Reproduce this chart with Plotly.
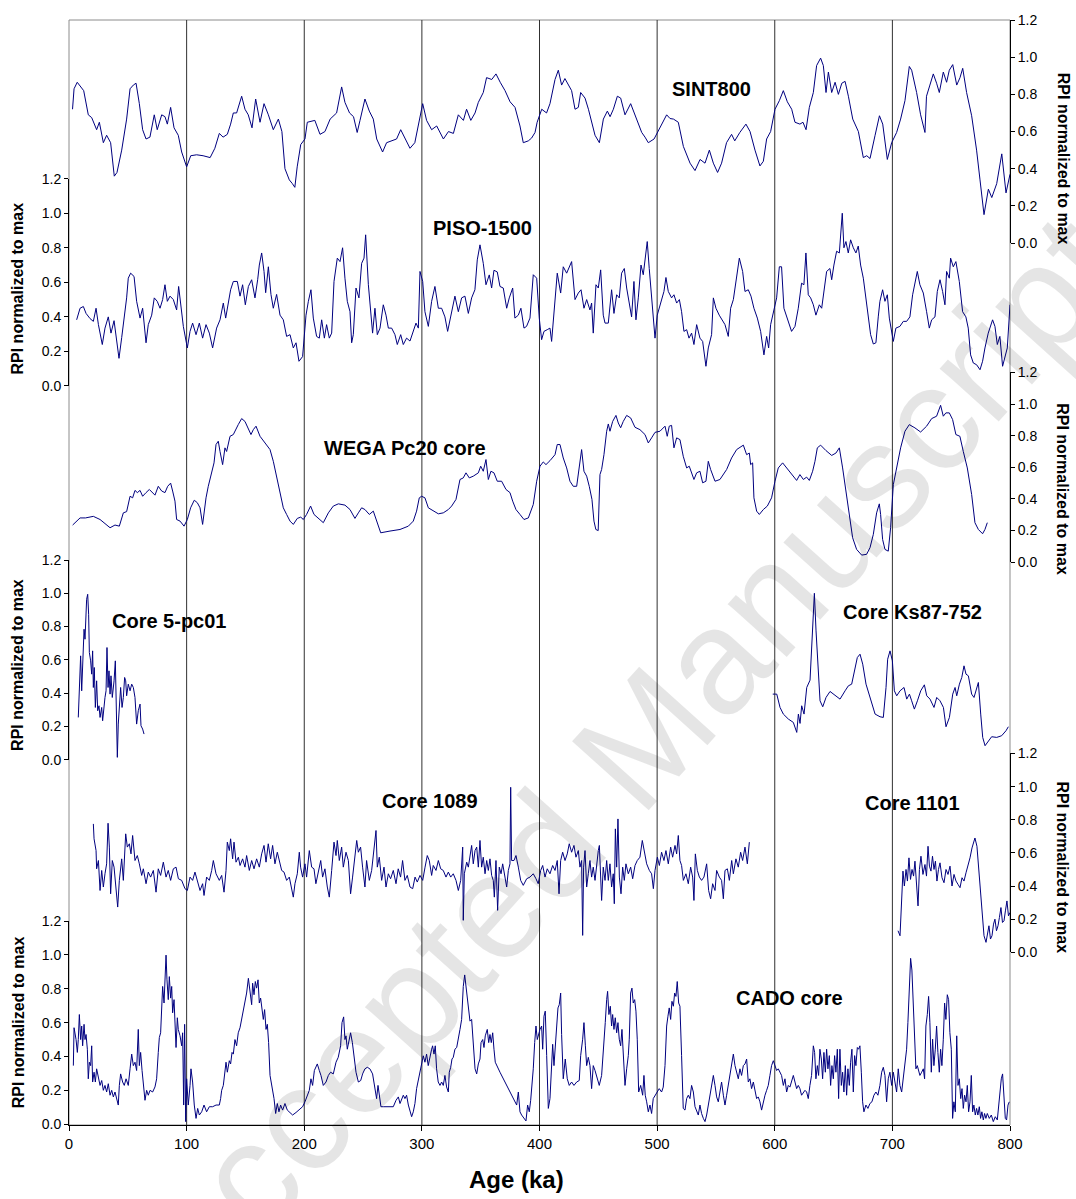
import plotly.graph_objects as go

# ---------------- data (age in ka, RPI normalized to max) ----------------
SINT800 = [(3,.72),(4.3,.83),(7,.865),(10.8,.83),(12.5,.82),(16.4,.69),(19.3,.675),(23.5,.61),(25.8,.65),(29.2,.54),(32,.58),(35.4,.54),(38.5,.36),(40.8,.38),(44.8,.50),(49,.667),(51.9,.83),(54.7,.85),(57,.86),(59.8,.75),(62.6,.61),(65.5,.56),(68.8,.57),(72.5,.69),(75,.61),(78.8,.69),(81.6,.68),(83.6,.64),(86.4,.73),(89.3,.62),(92.9,.58),(95.8,.49),(100,.41),(103.5,.47),(108.5,.475),(114,.47),(120,.46),(124,.51),(127.8,.59),(131,.57),(134.6,.585),(137.4,.64),(139.7,.70),(142.5,.70),(146.8,.79),(149.6,.72),(152.4,.69),(155.6,.62),(158.7,.775),(162.4,.65),(165.8,.75),(169.5,.69),(173.7,.61),(178,.667),(181,.60),(183.6,.40),(187.3,.34),(189.9,.32),(192,.30),(194,.41),(197,.53),(200.6,.56),(202.6,.65),(209,.66),(213.4,.585),(217.6,.60),(222,.667),(227.5,.70),(231.8,.84),(234.6,.757),(238.5,.70),(241.9,.68),(245,.595),(247.4,.66),(251.6,.775),(255.3,.71),(258.7,.667),(261.6,.56),(266.6,.49),(270,.54),(274.2,.55),(278.5,.56),(282,.61),(285.7,.56),(289.9,.51),(294,.54),(297,.64),(300.7,.75),(304,.66),(308.3,.61),(312.6,.63),(318.3,.56),(322.6,.60),(326.8,.59),(331,.69),(335.3,.66),(338,.72),(341.6,.66),(345.2,.70),(348,.757),(352.2,.81),(355,.89),(359.4,.88),(363,.91),(366.6,.865),(370.7,.82),(375,.76),(379.2,.73),(383.4,.63),(386.2,.54),(390.5,.55),(393.3,.565),(396.2,.595),(398,.65),(401.9,.72),(406,.70),(408.9,.75),(413.2,.88),(416,.93),(418.8,.85),(421.6,.885),(424.5,.85),(427.3,.82),(430.2,.72),(433,.73),(435,.81),(438.7,.78),(441.6,.72),(444.3,.65),(447.2,.58),(450.9,.54),(454.3,.667),(457.7,.71),(460,.68),(462.8,.72),(466.2,.79),(469,.78),(472.7,.69),(477.5,.75),(482.6,.66),(486.9,.595),(489.7,.57),(492.5,.54),(497.4,.56),(502.5,.62),(508.1,.69),(511,.67),(513.9,.667),(518,.65),(522.3,.52),(528,.43),(532.2,.39),(536.5,.45),(540.7,.43),(544.4,.50),(547.8,.43),(551.4,.38),(554.8,.43),(559,.54),(563.3,.585),(566,.55),(570.3,.595),(575.5,.64),(579,.60),(583.2,.50),(587.4,.415),(590.3,.44),(593.1,.56),(596.5,.60),(600.2,.72),(603.9,.766),(607.3,.82),(610.7,.76),(614.4,.72),(617.2,.65),(621.4,.64),(624,.65),(626.6,.61),(629.4,.73),(632.8,.81),(635.6,.955),(639,.995),(641.3,.955),(643.6,.81),(645.6,.92),(648.4,.81),(651.3,.865),(654.1,.80),(657,.86),(659.8,.87),(662.6,.79),(666.3,.667),(671.1,.60),(675.3,.46),(678.2,.47),(681,.455),(685.3,.58),(689,.685),(691.8,.64),(695.7,.45),(699.4,.54),(703.6,.595),(707,.667),(710.7,.766),(714.4,.95),(716.4,.93),(720.6,.81),(724,.69),(727.7,.595),(729,.79),(731.9,.85),(734.8,.91),(737.6,.86),(739.9,.81),(743.3,.92),(746.1,.865),(748.4,.93),(751.3,.96),(754.7,.85),(757.5,.89),(759.8,.94),(763.1,.81),(767.4,.685),(771.6,.50),(774.5,.34),(777.9,.153),(781.6,.29),(784.5,.245),(788.7,.32),(793,.48),(796.6,.27),(800,.37)]

PISO1500 = [(6.5,.383),(9.4,.45),(12.2,.46),(14.5,.42),(17.9,.39),(20.7,.374),(23,.45),(25,.355),(28.3,.24),(30.6,.335),(33.4,.40),(35.7,.306),(38.3,.378),(40.5,.26),(42.5,.16),(44.8,.28),(46.8,.383),(49,.51),(50.4,.624),(52.4,.653),(55.3,.634),(57.5,.49),(60.4,.393),(62.6,.45),(65.5,.25),(67.4,.355),(70.3,.41),(72.5,.51),(75,.49),(77.4,.45),(79.6,.50),(81.6,.586),(83.6,.49),(85.9,.52),(88.7,.50),(91.5,.44),(93.2,.576),(94.9,.49),(97.2,.345),(100.6,.22),(102.9,.316),(105.1,.364),(108,.297),(110.8,.364),(113.6,.277),(116.5,.355),(119.3,.306),(122.1,.22),(125.5,.335),(128.4,.383),(131.2,.48),(133.2,.393),(135.4,.49),(137.4,.557),(139.7,.605),(143.1,.605),(145.4,.52),(147.6,.586),(149.9,.47),(152.5,.576),(155.3,.615),(158.1,.51),(160.4,.615),(161.8,.70),(163.8,.77),(165.8,.663),(167.2,.54),(169.5,.69),(171.7,.53),(173.7,.45),(176.5,.53),(179.4,.41),(182.2,.383),(185,.287),(187.9,.297),(190.7,.22),(193,.25),(195.5,.143),(198.6,.17),(201.5,.41),(203.5,.49),(205.7,.557),(207.7,.393),(210.5,.287),(212.8,.277),(214.8,.383),(217.1,.277),(219,.355),(221.3,.277),(223.3,.306),(225.3,.605),(228.1,.74),(230.4,.72),(232.6,.80),(234.6,.624),(236.6,.49),(238.9,.43),(240.3,.25),(241.7,.297),(244,.567),(246.5,.51),(248.8,.71),(250.8,.74),(252.2,.875),(254.5,.586),(256.4,.43),(258.1,.306),(260.1,.45),(262.1,.297),(264.4,.335),(267.2,.47),(269.5,.41),(271.5,.335),(274.3,.335),(277.1,.297),(279.1,.24),(282,.297),(284.2,.24),(287,.277),(289.9,.26),(292.7,.316),(295,.364),(297,.335),(298.4,.663),(300.7,.605),(302.6,.43),(305.5,.345),(308.3,.49),(311.1,.576),(314,.45),(316.8,.45),(319.6,.40),(321.9,.316),(324.5,.41),(328.1,.52),(331,.43),(333.8,.51),(336.6,.52),(339.5,.42),(342.3,.51),(345.1,.557),(347.1,.73),(349.4,.817),(352.2,.71),(354.5,.586),(357.3,.643),(359.3,.567),(361.3,.67),(364.1,.66),(366.4,.576),(369.2,.567),(372.1,.45),(374.3,.51),(377.2,.567),(379.1,.393),(382,.41),(384.2,.45),(386.8,.335),(389,.345),(391.9,.393),(394.7,.644),(397.6,.624),(399.8,.393),(401.8,.268),(403.8,.316),(406.6,.326),(408.9,.335),(410.3,.258),(412.3,.43),(415.1,.653),(418,.538),(420.2,.69),(423.1,.653),(425.3,.69),(427.3,.72),(430.2,.50),(433,.538),(435.3,.557),(437.8,.45),(440.1,.50),(442.9,.44),(444.3,.48),(445.7,.306),(448,.586),(450,.567),(452,.672),(454.2,.41),(455.7,.364),(458.5,.364),(461.3,.557),(463.3,.42),(465.6,.528),(467.8,.51),(469.8,.653),(472.1,.68),(474.1,.567),(476.3,.49),(478.3,.40),(480.3,.605),(482,.383),(484,.51),(486.3,.70),(488.2,.644),(489.7,.74),(491.6,.836),(493.3,.68),(495.3,.528),(498.2,.277),(500.1,.41),(503.3,.49),(505.8,.547),(507.5,.628),(509.5,.547),(512.3,.51),(514.3,.528),(516.6,.48),(518.9,.50),(520.8,.43),(522.8,.316),(525.1,.326),(527.1,.277),(529.3,.306),(531.3,.24),(533.6,.355),(536.4,.277),(538.7,.258),(541.5,.114),(543.5,.22),(546.3,.297),(547.8,.51),(550,.45),(552.8,.41),(555.1,.383),(557.7,.355),(560.5,.287),(562.5,.45),(564.8,.50),(567.6,.644),(569.9,.74),(572.7,.663),(574.7,.547),(577.5,.557),(579.8,.52),(582.3,.45),(585.2,.393),(588,.316),(590.8,.18),(593.1,.287),(594.8,.22),(596.5,.355),(598.8,.43),(601.6,.51),(603.9,.69),(605.8,.69),(607.8,.45),(610.6,.393),(614.3,.316),(617.2,.345),(620,.45),(622.8,.595),(624.8,.586),(626.5,.77),(628.5,.528),(630.5,.51),(632.8,.47),(635,.41),(637.9,.47),(639.9,.45),(641.8,.547),(644.1,.663),(646.9,.68),(648.4,.615),(650.3,.70),(652.6,.78),(654.9,.77),(656,.884),(657.4,1.0),(658.8,.80),(660.5,.836),(662.5,.77),(664.5,.846),(666.8,.80),(669,.77),(671,.81),(673,.70),(675.3,.624),(677.5,.51),(679.5,.393),(681.5,.297),(683.8,.243),(686,.25),(688,.40),(689.4,.49),(691.7,.557),(693.7,.49),(695.7,.528),(697.4,.393),(700.8,.258),(703,.335),(706.4,.345),(709.3,.374),(712.1,.374),(714.9,.40),(717.2,.528),(719.2,.605),(721.2,.663),(723.4,.586),(726.3,.538),(729.1,.43),(731.4,.335),(733.4,.383),(736.2,.40),(738.2,.547),(740.5,.615),(742.7,.547),(744.7,.47),(746.1,.663),(748.4,.624),(749.5,.74),(751.8,.69),(754,.72),(756.9,.605),(759.7,.43),(762.5,.40),(764.5,.335),(766.5,.18),(768.8,.133),(771.6,.123),(774.5,.094),(776.7,.143),(778.7,.22),(781.5,.306),(785.2,.383),(787.2,.345),(789.2,.24),(791.4,.287),(793.7,.114),(795.7,.17),(797.7,.22),(800,.47)]

WEGA_PC20 = [(3.1,.235),(9.4,.28),(14,.28),(20.7,.29),(26.4,.27),(34.9,.218),(39.1,.235),(42.8,.228),(46.2,.312),(49,.32),(51.9,.417),(54.1,.407),(56.1,.454),(58.1,.44),(60.4,.454),(62.6,.417),(65.5,.44),(68.3,.46),(73.1,.424),(75.9,.48),(78.8,.45),(81.6,.44),(83.9,.48),(86.4,.50),(88.1,.45),(90.1,.386),(91.5,.27),(94.4,.26),(97.8,.228),(100.6,.27),(103.4,.344),(106.5,.392),(109.1,.376),(111.4,.344),(113.6,.239),(114.8,.323),(116.5,.407),(118.4,.48),(121.3,.575),(123.3,.628),(125,.744),(126.9,.765),(128.4,.70),(130.6,.617),(132.6,.723),(134,.70),(136.9,.796),(139.7,.807),(143.9,.87),(146.8,.908),(149.6,.89),(152.5,.838),(154.7,.807),(156.7,.838),(159,.86),(162.4,.796),(166.6,.754),(170.9,.712),(173.7,.638),(176.5,.533),(179.4,.44),(182.2,.344),(185,.302),(187.9,.26),(190.7,.239),(194.1,.277),(197,.285),(199.2,.27),(202,.302),(205.4,.355),(208.3,.302),(212,.28),(216.2,.25),(220.5,.312),(224.7,.355),(229,.369),(234.6,.361),(238.9,.333),(243.1,.277),(246,.312),(248.8,.344),(251.6,.333),(255.3,.302),(258.7,.323),(261.5,.26),(265,.186),(272.9,.197),(281.4,.207),(288.5,.228),(292.7,.26),(295.5,.323),(297.8,.407),(299.8,.417),(302.6,.407),(305.5,.344),(309.7,.323),(314,.306),(318.2,.312),(322.5,.333),(325.3,.355),(329,.397),(332.4,.523),(335.2,.533),(337.5,.565),(340.3,.533),(343.7,.544),(348,.565),(350,.607),(352.2,.575),(354.5,.649),(356.5,.523),(358.7,.575),(361.3,.565),(364.1,.512),(367.8,.512),(371.5,.46),(374.9,.44),(377.2,.386),(380,.333),(383.4,.302),(386.8,.27),(390.5,.28),(394.7,.365),(397.6,.512),(400.4,.607),(403.2,.634),(405.5,.617),(408.9,.642),(413.2,.68),(415.1,.744),(417.4,.744),(420.2,.659),(423.1,.596),(425.9,.512),(428.7,.48),(431.6,.48),(433.8,.596),(435.8,.712),(437.8,.575),(440.1,.544),(442.3,.48),(444.6,.397),(446.3,.26),(447.9,.207),(449.9,.20),(451.4,.554),(452.8,.586),(454.8,.68),(457.1,.828),(458.5,.874),(459.9,.828),(462.2,.89),(465,.928),(467,.88),(469,.85),(471.2,.89),(474.1,.928),(477.5,.912),(481.2,.853),(485.4,.838),(489.7,.807),(492.5,.754),(495.3,.786),(498.2,.821),(502.4,.828),(506.7,.86),(508.6,.796),(510.3,.86),(512.3,.865),(514.3,.723),(516.6,.786),(519.4,.775),(522.2,.67),(525.1,.596),(527.3,.607),(529.3,.565),(531.3,.523),(533.6,.565),(536.4,.575),(538.7,.502),(541.5,.512),(543.5,.638),(545.5,.586),(549.2,.512),(553.4,.523),(559.1,.586),(563.3,.659),(567.6,.712),(573.3,.74),(576.1,.68),(578.4,.69),(579.5,.617),(581.2,.628),(582.3,.407),(584.6,.323),(586.9,.302),(590.3,.333),(593.7,.355),(597.3,.407),(600.2,.512),(603,.596),(606.7,.628),(610.1,.596),(614.3,.554),(618.6,.517),(621.4,.554),(624.3,.523),(627.1,.538),(629.4,.517),(632.2,.575),(634.2,.638),(636.2,.723),(639,.74),(643.5,.706),(648.4,.675),(652,.69),(654.9,.723),(657.7,.596),(660.5,.449),(663.4,.28),(666.2,.155),(669.6,.081),(673.9,.045),(678.1,.05),(681,.092),(683.8,.176),(686.6,.312),(688.9,.369),(690,.302),(691.7,.144),(693.7,.081),(696.5,.07),(698.5,.218),(700.8,.49),(703.6,.596),(707,.723),(710.7,.828),(714.4,.87),(719.2,.849),(724,.823),(729.1,.86),(733.4,.908),(737.6,.923),(741,.992),(743.3,.923),(745.5,.944),(748.4,.944),(751.2,.902),(754,.807),(757.4,.796),(760.3,.70),(763.7,.596),(767.4,.428),(770.2,.25),(773.1,.207),(776.7,.18),(778.7,.207),(780.7,.25)]

CORE_5PC01 = [(7.9,.254),(8.8,.414),(9.9,.624),(10.8,.414),(11.6,.564),(12.2,.724),(12.8,.784),(13.6,.724),(14.5,.854),(15,.964),(15.9,.994),(16.7,.874),(17.3,.644),(18.4,.594),(19.3,.514),(20.1,.654),(20.7,.434),(21.5,.554),(22.4,.314),(23.5,.474),(24.4,.294),(25.5,.324),(26.4,.254),(27.8,.314),(28.6,.234),(29.8,.334),(30.6,.374),(31.5,.414),(32.3,.674),(33.2,.434),(34,.534),(34.9,.394),(35.7,.504),(36.8,.374),(38.3,.474),(39.4,.594),(40.5,.274),(41.1,.014),(41.9,.214),(42.8,.334),(43.9,.434),(45.1,.314),(46.2,.374),(47.3,.494),(48.2,.474),(49,.384),(50.4,.454),(51.9,.414),(53.3,.454),(54.7,.434),(56.1,.374),(57.5,.214),(58.9,.294),(60.4,.334),(61.2,.204),(62.6,.184),(63.8,.154)]

CORE_KS87_752 = [(598.3,.394),(601.7,.394),(604.5,.314),(607.3,.274),(611.6,.244),(615.8,.224),(618.7,.164),(620.1,.274),(621.5,.218),(622.9,.324),(624.9,.274),(627.2,.434),(630,.478),(631.4,.674),(632.8,.914),(633.7,1.0),(635.1,.774),(637.1,.474),(638.5,.354),(640.8,.318),(643.6,.374),(647,.41),(651.3,.384),(655.5,.364),(659.8,.414),(662.6,.444),(665.4,.454),(668.3,.554),(670.2,.614),(672.5,.634),(674.8,.574),(677.6,.454),(681,.374),(685.3,.274),(689.5,.258),(692.3,.254),(694.6,.434),(696,.604),(698,.654),(700,.594),(701.7,.414),(703.7,.384),(706.5,.414),(709.9,.434),(712.2,.364),(714.5,.394),(716.4,.354),(718.7,.304),(721.3,.354),(724.1,.414),(727.2,.45),(729.2,.384),(732,.364),(735.4,.314),(737.7,.374),(740.5,.354),(743.4,.314),(745.6,.198),(748.5,.254),(751.3,.394),(753.3,.434),(754.7,.384),(757,.454),(759,.494),(760.9,.564),(762.6,.514),(764.6,.504),(767.4,.394),(769.4,.374),(771.7,.434),(773.1,.464),(775.1,.274),(776.8,.134),(778.8,.084),(781.6,.114),(784.4,.138),(788.7,.134),(792.9,.144),(796.6,.174),(798.6,.198)]

CORE_1089 = [(20.7,.775),(21.3,.685),(23,.614),(23.5,.504),(25,.554),(26.4,.373),(27.8,.494),(29.2,.394),(30.6,.474),(32,.534),(33.2,.779),(34.3,.635),(35.4,.353),(36.8,.554),(38.3,.514),(39.9,.394),(41.4,.273),(42.8,.434),(44.8,.564),(46.2,.434),(48.2,.715),(49.6,.635),(51.3,.655),(52.7,.594),(54.1,.705),(56.1,.554),(58.1,.584),(59.8,.534),(61.8,.464),(63.2,.504),(65.5,.414),(67.4,.484),(69.4,.454),(71.7,.494),(74,.363),(75.9,.504),(77.9,.464),(80.2,.544),(82.5,.454),(84.4,.494),(86.4,.434),(88.7,.504),(91,.514),(93,.444),(95.8,.434),(98.6,.384),(100.6,.373),(102.9,.454),(105.1,.434),(107.1,.484),(109.1,.434),(111.4,.373),(113.6,.414),(114.8,.343),(117,.454),(119.3,.434),(121.3,.494),(122.7,.554),(125,.474),(127.8,.434),(129.8,.464),(131.8,.363),(133.5,.494),(134.6,.665),(136.3,.614),(137.4,.685),(139.1,.564),(140.3,.665),(142,.544),(144,.574),(145.4,.524),(147.6,.564),(149.6,.514),(151,.584),(153.3,.494),(155.3,.554),(157.3,.504),(159.5,.564),(161.8,.514),(163.8,.594),(165.8,.645),(167.5,.544),(169.4,.655),(171.4,.564),(173.1,.645),(175.1,.534),(177.1,.604),(178.8,.554),(180.8,.494),(182.8,.484),(185,.434),(187.3,.454),(189.3,.373),(190.7,.333),(192.1,.414),(194.1,.474),(195.8,.604),(196.9,.514),(198.6,.454),(200.6,.534),(202,.454),(204.3,.614),(206.3,.514),(208.3,.504),(209.9,.414),(211.9,.484),(214,.554),(215.6,.454),(217.6,.504),(219.6,.394),(221.3,.333),(223.3,.494),(225.3,.665),(227,.584),(228.1,.675),(229.8,.554),(231.8,.635),(233.2,.514),(235.5,.604),(237.5,.554),(239.4,.353),(241.1,.454),(243.1,.574),(244.6,.675),(246,.604),(247.9,.635),(249.6,.514),(251.6,.394),(253,.554),(255.3,.434),(257.3,.494),(259.3,.635),(261,.735),(262.1,.514),(263.8,.574),(265.8,.434),(267.8,.514),(269.5,.394),(271.5,.474),(273.4,.444),(275.7,.494),(278,.414),(279.9,.504),(281.9,.454),(283.6,.554),(285.6,.434),(287.6,.464),(289.9,.394),(292.2,.384),(294.2,.454),(296.1,.424),(298.4,.464),(300.7,.434),(302.7,.514),(304.6,.584),(306.3,.554),(308.3,.464),(309.7,.524),(312,.494),(314,.554),(316,.504),(318.2,.494),(320.5,.454),(322.5,.484),(324.5,.454),(326.7,.474),(329,.434),(331,.373),(333,.434),(334.7,.635),(335.2,.193),(336.1,.474),(338.1,.544),(339.5,.514),(340.9,.574),(342.3,.645),(343.7,.534),(345.2,.614),(346.6,.635),(348,.514),(349.4,.675),(350.8,.514),(352.2,.574),(353.7,.474),(355.1,.554),(356.5,.494),(357.9,.564),(359.3,.464),(360.7,.434),(361.6,.333),(363,.554),(364.4,.253),(365.8,.514),(367.3,.474),(368.7,.534),(370.7,.434),(372.1,.394),(373.5,.494),(374.9,.534),(375.5,.996),(376.3,.554),(378.3,.554),(380,.584),(382,.514),(384,.434),(386.2,.404),(389.1,.444),(391.9,.454),(394.7,.474),(397,.444),(398.9,.414),(401,.494),(402.7,.524),(404.7,.454),(406.6,.504),(408.9,.474),(411.2,.524),(413.2,.494),(415.1,.554),(416.6,.353),(418,.554),(419.7,.604),(421.7,.554),(423.6,.594),(425.3,.655),(427.3,.604),(429.3,.645),(431,.574),(433,.614),(434.4,.514),(435.8,.554),(436.7,.102),(437.5,.514),(438.7,.614),(440.1,.394),(441.5,.474),(442.9,.554),(444.3,.454),(445.7,.514),(447.2,.434),(448.6,.534),(450,.614),(450.9,.645),(452,.474),(452.8,.313),(454.2,.514),(455.7,.434),(457.1,.554),(458.5,.434),(459.9,.534),(461.3,.394),(462.7,.474),(463.6,.293),(464.5,.745),(465.6,.514),(466.7,.805),(467.9,.454),(469.3,.353),(470.7,.514),(472.1,.434),(473.5,.534),(475.5,.474),(477.5,.514),(479.2,.444),(481.2,.524),(483.1,.554),(485.4,.574),(487.4,.675),(489.1,.604),(491.1,.534),(493.4,.494),(495.3,.474),(496.8,.384),(498.2,.494),(500.2,.574),(501.9,.524),(503.8,.604),(505.8,.554),(507.5,.614),(509.5,.534),(511.5,.635),(513.2,.574),(515.2,.645),(516.6,.594),(518,.705),(519.4,.554),(520.8,.524),(522.3,.434),(524.5,.474),(526.5,.414),(528.5,.514),(530.2,.454),(531.3,.313),(532.5,.594),(534.2,.494),(535.9,.454),(537.8,.434),(539.8,.454),(542.1,.534),(543.8,.373),(545.5,.323),(547.2,.414),(549.2,.373),(550.6,.494),(552.9,.454),(554.8,.434),(556.3,.323),(557.7,.494),(559.7,.504),(561.4,.434),(563.4,.554),(564.8,.474),(567,.564),(569,.514),(571,.604),(572.7,.554),(574.7,.635),(576.7,.534),(578.4,.665)]

CORE_1101 = [(704.8,.13),(706.5,.10),(709,.49),(710.2,.40),(711.6,.50),(712.8,.43),(714.1,.57),(715.4,.44),(716.7,.50),(718,.46),(719.2,.55),(720.5,.42),(721.8,.28),(723,.50),(724.3,.58),(726,.47),(727.7,.53),(729,.46),(730.3,.64),(731.5,.52),(732.8,.49),(734.1,.58),(735.4,.50),(736.6,.55),(737.9,.43),(739.2,.50),(740.5,.54),(742.2,.45),(743.9,.42),(745.6,.50),(747.3,.47),(749,.52),(750.7,.40),(752.4,.47),(754.1,.43),(755.8,.41),(757.5,.39),(759.2,.45),(760.9,.43),(762.6,.48),(764.3,.52),(766,.57),(767.7,.63),(769,.66),(770.2,.69),(771.9,.64),(773.6,.49),(775.3,.31),(776.6,.22),(777.9,.10),(779.6,.06),(780.8,.12),(782.1,.16),(783.4,.08),(784.7,.10),(786,.17),(787.2,.20),(788.5,.13),(789.8,.16),(791,.21),(792.3,.27),(793.6,.18),(794.9,.19),(796.1,.25),(797.4,.31),(798.7,.22),(800,.24)]

CADO = [(3.7,.346),(4.3,.57),(6,.50),(7.1,.424),(7.9,.50),(8.8,.648),(9.9,.50),(10.8,.58),(11.6,.463),(12.8,.59),(13.6,.50),(14.5,.53),(15.6,.443),(16.4,.268),(17.3,.366),(18.4,.346),(19.3,.463),(20.1,.249),(21.3,.307),(22.4,.249),(23.5,.327),(24.9,.268),(26.4,.229),(27.8,.258),(29.2,.20),(30.6,.229),(32,.19),(33.4,.239),(34.9,.171),(36.3,.20),(37.7,.161),(39.1,.19),(40.5,.151),(41.9,.113),(42.8,.229),(43.9,.297),(45.6,.249),(47,.229),(48.5,.268),(50.4,.229),(51.9,.327),(53.3,.414),(54.7,.346),(56.1,.366),(57.5,.317),(58.9,.56),(59.8,.346),(60.9,.424),(62.1,.317),(63.2,.22),(64.6,.141),(66,.20),(67.4,.171),(68.9,.20),(71.1,.19),(73.1,.22),(74.5,.268),(75.9,.424),(76.8,.512),(77.9,.54),(78.8,.706),(79.6,.814),(80.8,.716),(81.6,.882),(82.5,.999),(83.3,.853),(84.4,.736),(85.3,.872),(86.4,.745),(87.3,.814),(88.1,.658),(89.3,.736),(90.1,.638),(91,.453),(92.1,.629),(92.9,.56),(94.4,.522),(95.8,.463),(96.6,.54),(97.5,.113),(98.3,.59),(99.2,.015),(100,.268),(101.4,.113),(102.9,.229),(103.7,.327),(105.1,.249),(106.5,.113),(108,.034),(109.4,.093),(110.8,.054),(112.8,.073),(114.8,.113),(117,.073),(119.3,.103),(122.1,.103),(125,.113),(127.8,.113),(128.9,.151),(129.8,.20),(131.2,.229),(132.6,.297),(133.5,.366),(134.6,.307),(136.3,.375),(137.4,.356),(138.6,.424),(139.7,.414),(141.1,.50),(142.5,.463),(143.9,.54),(145.4,.57),(146.8,.619),(148.2,.658),(149.6,.716),(151,.775),(152.5,.862),(153.9,.794),(155.3,.706),(156.1,.833),(157.3,.765),(158.4,.843),(159.5,.804),(160.7,.853),(161.8,.716),(162.9,.745),(164.1,.667),(165.2,.619),(166.3,.677),(167.5,.56),(168.6,.59),(169.7,.482),(170.9,.288),(172.6,.229),(174.3,.151),(175.7,.063),(177.1,.122),(178.5,.073),(179.9,.113),(181.6,.083),(183.6,.122),(185.6,.083),(187.9,.069),(190.1,.054),(193,.069),(195.8,.089),(198.6,.103),(200.6,.132),(202.6,.171),(204.3,.20),(205.7,.268),(207.1,.229),(208.6,.317),(210,.336),(211.1,.356),(212.8,.317),(214.2,.288),(216.2,.229),(218.5,.249),(220.5,.288),(222.4,.307),(224.7,.297),(227,.366),(228.9,.395),(230.9,.463),(232.1,.60),(233.5,.634),(234.6,.50),(235.5,.522),(236.6,.443),(238.3,.50),(239.4,.54),(240.9,.482),(242.3,.395),(244,.307),(246,.249),(248,.258),(249.6,.297),(251.6,.327),(253.6,.336),(255.8,.327),(258.1,.297),(260.1,.22),(261.5,.151),(262.7,.229),(263.8,.161),(265.2,.103),(267.2,.103),(271.5,.103),(275.7,.103),(278,.141),(280,.161),(281.4,.122),(282.8,.151),(284.2,.171),(285.6,.151),(287,.171),(288.5,.113),(289.9,.073),(291.3,.044),(292.7,.073),(294.1,.122),(295.5,.21),(297,.258),(298.4,.317),(299.8,.346),(301.2,.404),(302.6,.366),(304,.414),(305.4,.346),(306.8,.404),(308.3,.443),(309.1,.463),(310.3,.414),(311.4,.463),(312.5,.327),(313.9,.249),(315.4,.229),(316.8,.249),(318.2,.229),(319.6,.288),(321,.22),(322.5,.19),(323.3,.307),(324.5,.336),(325.6,.385),(326.7,.395),(328.1,.443),(329.6,.453),(331,.50),(332.4,.56),(333.8,.619),(335.2,.814),(336.4,.882),(337.5,.814),(338.6,.736),(339.8,.638),(340.9,.609),(342.3,.619),(343.7,.50),(345.2,.327),(346.6,.297),(348,.356),(349.4,.385),(350.3,.482),(351.7,.50),(352.8,.453),(353.9,.522),(355.6,.56),(356.8,.482),(357.9,.53),(359,.482),(360.2,.54),(361.3,.443),(362.4,.366),(366.4,.307),(372.1,.229),(377.7,.151),(380.6,.113),(382,.19),(383.4,.073),(384.8,.054),(386.8,.034),(388.5,.019),(389.9,.113),(391.3,.073),(392.5,.141),(393.6,.229),(394.7,.327),(395.9,.482),(397,.58),(398.1,.50),(399.3,.54),(400.4,.56),(401.8,.58),(402.7,.443),(403.8,.638),(404.9,.668),(406.1,.405),(407.5,.093),(408.9,.151),(410.3,.307),(411.2,.472),(412.3,.346),(413.4,.443),(414.6,.56),(415.7,.687),(416.8,.706),(418,.775),(418.8,.53),(420.2,.268),(421.9,.385),(423.6,.268),(425.3,.229),(427.3,.249),(429.3,.229),(431.6,.249),(433.8,.258),(435,.405),(436.7,.502),(437.8,.60),(439,.463),(440.1,.346),(441.5,.395),(442.9,.346),(444.3,.21),(445.7,.346),(447.2,.317),(448.6,.288),(450.8,.229),(452.8,.288),(454.8,.463),(455.9,.60),(457.1,.736),(457.9,.785),(459,.648),(460.2,.697),(461.3,.58),(462.2,.648),(463.3,.56),(464.4,.629),(465.6,.54),(466.7,.60),(467.8,.502),(469,.463),(470.1,.56),(471.2,.443),(472.7,.229),(474.1,.327),(475.5,.405),(476.3,.502),(477.5,.775),(478.6,.804),(479.7,.716),(480.9,.736),(482,.668),(483.1,.502),(484.3,.19),(486,.229),(487.7,.171),(488.8,.288),(489.9,.171),(491.1,.132),(492.5,.073),(493.9,.113),(495.3,.063),(496.7,.151),(498.2,.171),(500.1,.19),(501.8,.21),(503.8,.19),(505.2,.219),(506.7,.346),(508.1,.58),(509.2,.638),(510.3,.687),(511.5,.619),(512.6,.726),(513.8,.697),(514.9,.775),(516,.755),(517.1,.843),(518.3,.716),(519.4,.697),(520.8,.405),(522.2,.093),(523.7,.083),(525.1,.151),(526.5,.171),(527.9,.151),(529.3,.229),(530.8,.19),(532.2,.103),(533.6,.083),(535,.054),(536.4,.113),(537.8,.063),(539.3,.034),(540.7,.015),(542.1,.054),(543.5,.113),(544.9,.171),(546.3,.229),(547.8,.288),(549.2,.229),(550.6,.161),(552,.132),(553.4,.19),(554.8,.249),(556.3,.171),(557.7,.113),(559.1,.171),(560.5,.229),(561.9,.288),(563.3,.346),(564.8,.414),(566.2,.346),(567.6,.307),(569,.268),(570.4,.327),(571.8,.288),(573.3,.346),(574.7,.356),(576.1,.385),(577.5,.249),(578.9,.268),(580.3,.21),(581.8,.249),(583.2,.19),(584.6,.151),(586,.161),(587.4,.132),(588.8,.083),(590.3,.132),(591.7,.171),(593.1,.20),(594.5,.229),(595.9,.288),(597.3,.346),(598.8,.375),(600.2,.346),(601.6,.317),(603,.327),(604.4,.307),(605.8,.288),(607.3,.229),(608.7,.268),(610.1,.19),(611.5,.229),(612.9,.219),(614.3,.258),(615.8,.288),(617.2,.249),(618.6,.21),(620,.229),(621.4,.21),(622.8,.171),(624.3,.19),(625.7,.20),(627.1,.19),(628.5,.151),(629.9,.229),(631.3,.288),(632.8,.463),(633.9,.424),(635,.268),(636.2,.346),(637.3,.288),(638.4,.443),(639.6,.385),(640.7,.268),(641.8,.424),(643,.307),(644.1,.443),(645.2,.327),(646.4,.405),(647.5,.229),(648.6,.346),(649.8,.268),(650.9,.405),(652,.307),(653.2,.443),(654.3,.151),(655.4,.443),(656.6,.229),(657.7,.307),(658.8,.19),(660,.346),(661.1,.171),(662.2,.327),(663.4,.229),(664.5,.366),(665.6,.443),(666.8,.19),(667.9,.405),(669,.346),(670.2,.453),(671.3,.443),(672.4,.463),(673.6,.307),(674.7,.132),(675.8,.073),(677.5,.113),(679.2,.093),(680.9,.122),(682.6,.132),(684.3,.171),(686,.19),(687.7,.171),(689.4,.229),(690.9,.307),(692.3,.336),(693.7,.288),(695.1,.132),(696.5,.268),(697.9,.307),(699.4,.229),(700.8,.307),(702.2,.249),(703.6,.19),(705,.327),(706.4,.229),(707.9,.19),(709.3,.268),(710.7,.346),(712.1,.443),(713.2,.60),(714.4,.795),(715.5,.98),(716.6,.911),(717.8,.697),(718.9,.443),(720,.327),(721.2,.346),(722.3,.307),(723.4,.288),(724.9,.307),(726.3,.327),(727.4,.268),(728.5,.58),(729.7,.648),(730.8,.755),(731.9,.60),(733.1,.307),(734.2,.502),(735.3,.346),(736.5,.443),(737.6,.58),(738.7,.424),(739.9,.307),(741,.443),(742.1,.346),(743.3,.502),(744.4,.716),(745.5,.619),(746.7,.765),(747.8,.736),(748.9,.541),(750.1,.443),(751.2,.034),(752.3,.132),(753.5,.073),(754.7,.522),(755.8,.229),(756.9,.268),(758.1,.151),(759.2,.21),(760.3,.093),(761.4,.171),(762.6,.132),(763.7,.229),(764.8,.073),(766,.132),(767.1,.288),(768.2,.073),(769.3,.113),(770.5,.054),(771.6,.093),(772.7,.054),(773.9,.103),(775,.034),(776.1,.073),(777.3,.025),(778.4,.063),(779.5,.034),(780.7,.063),(782.4,.034),(784.1,.054),(785.8,.015),(787.5,.044),(789.2,.025),(790.3,.113),(791.4,.19),(792.6,.268),(793.7,.297),(794.9,.171),(796,.034),(797.1,.025),(798.3,.113),(799.4,.132)]

AGE_TICKS = [0, 100, 200, 300, 400, 500, 600, 700, 800]
RPI_TICKS = [0.0, 0.2, 0.4, 0.6, 0.8, 1.0, 1.2]
GUIDE_AGES = [100, 200, 300, 400, 500, 600, 700]

# ---------------- figure ----------------
LINE_COLOR = "#00007f"
FONT = "Liberation Sans, Arial, sans-serif"

fig = go.Figure()


def add_series(series, yaxis):
    age, rpi = zip(*series)
    fig.add_trace(go.Scatter(x=list(age), y=list(rpi), mode="lines", xaxis="x", yaxis=yaxis,
                             line=dict(color=LINE_COLOR, width=1), showlegend=False,
                             hoverinfo="skip"))


add_series(SINT800, "y")
add_series(PISO1500, "y2")
add_series(WEGA_PC20, "y3")
add_series(CORE_5PC01, "y4")
add_series(CORE_KS87_752, "y4")
add_series(CORE_1089, "y5")
add_series(CORE_1101, "y5")
add_series(CADO, "y6")


def yax(side, domain, rng=(0, 1.2)):
    return dict(domain=list(domain), range=list(rng), side=side, anchor="x",
                tickvals=RPI_TICKS, ticktext=[f"{v:.1f}" for v in RPI_TICKS],
                ticks="outside", ticklen=4, tickwidth=1, tickcolor="black",
                showline=True, linecolor="black", linewidth=1,
                showgrid=False, zeroline=False,
                tickfont=dict(family=FONT, size=14, color="black"))


layout = dict(
    width=1076, height=1199,
    margin=dict(l=69, r=66, t=18, b=74),
    paper_bgcolor="white", plot_bgcolor="rgba(0,0,0,0)",
    showlegend=False,
    xaxis=dict(domain=[0, 1], range=[0, 800], anchor="y6", tickvals=AGE_TICKS,
               ticks="outside", ticklen=5, tickcolor="black", showline=True,
               linecolor="black", linewidth=1, showgrid=False, zeroline=False,
               tickfont=dict(family=FONT, size=15, color="black")),
    yaxis=yax("right", (0.7981, 1.0)),
    yaxis2=yax("left", (0.6688, 0.8564)),
    yaxis3=yax("right", (0.5093, 0.6811)),
    yaxis4=yax("left", (0.3306, 0.5113)),
    yaxis5=yax("right", (0.1563, 0.3362)),
    yaxis6=yax("left", (0.0, 0.1845), (-0.005, 1.2)),
)
fig.update_layout(**layout)

# plot-area frame and age guide lines
shapes = [dict(type="rect", xref="paper", yref="paper", x0=0, x1=1, y0=0, y1=1,
               line=dict(color="#8c8c8c", width=1), layer="below")]
for a in GUIDE_AGES:
    shapes.append(dict(type="line", xref="x", yref="paper", x0=a, x1=a, y0=0, y1=1,
                       line=dict(color="#303030", width=1), layer="below"))
fig.update_layout(shapes=shapes)

ann = []
# watermark
ann.append(dict(text="Accepted Manuscript", xref="paper", yref="paper", x=0.59, y=0.33,
                xanchor="center", yanchor="middle", showarrow=False, textangle=-48,
                font=dict(family=FONT, size=150, color="rgba(0,0,0,0.10)")))
# axis titles
TITLE = "<b>RPI normalized to max</b>"
for yc in (0.757, 0.4164, 0.093):
    ann.append(dict(text=TITLE, xref="paper", yref="paper", x=-0.0542, y=yc, showarrow=False,
                    xanchor="center", yanchor="middle", textangle=-90,
                    font=dict(family=FONT, size=16, color="black")))
for yc in (0.8744, 0.5754, 0.2331):
    ann.append(dict(text=TITLE, xref="paper", yref="paper", x=1.0563, y=yc, showarrow=False,
                    xanchor="center", yanchor="middle", textangle=90,
                    font=dict(family=FONT, size=16, color="black")))
ann.append(dict(text="<b>Age (ka)</b>", xref="paper", yref="paper", x=0.4755, y=-0.0497,
                xanchor="center", yanchor="middle", showarrow=False,
                font=dict(family=FONT, size=24, color="black")))
# series labels
labels = [("SINT800", 0.6823, 0.9377), ("PISO-1500", 0.4389, 0.8121),
          ("WEGA Pc20 core", 0.3570, 0.6125), ("Core 5-pc01", 0.1073, 0.4562),
          ("Core Ks87-752", 0.8959, 0.4643), ("Core 1089", 0.3836, 0.2936),
          ("Core 1101", 0.8967, 0.2918), ("CADO core", 0.7662, 0.1147)]
for t, x, y in labels:
    ann.append(dict(text=f"<b>{t}</b>", xref="paper", yref="paper", x=x, y=y, showarrow=False,
                    xanchor="center", yanchor="middle",
                    font=dict(family=FONT, size=20, color="black")))
fig.update_layout(annotations=ann)

fig.write_html("out.html")
